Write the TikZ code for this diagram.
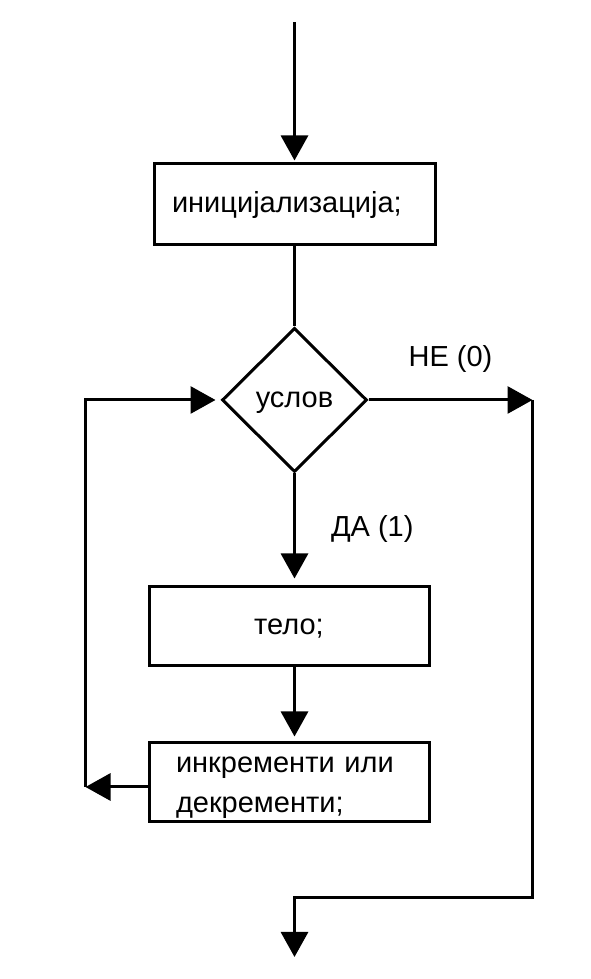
\documentclass[tikz,border=0pt]{standalone}
\usepackage{fontspec}
\setmainfont{Liberation Sans}
\usetikzlibrary{shapes.geometric,
                arrows.meta,
                positioning}
\tikzset{block/.style=
   {rectangle,
    draw,
    line width=3pt,
    text centered,
    text height=22pt,
    text depth=6pt,
    minimum width=280pt,
    minimum height=79pt}}
\tikzset{decision/.style=
   {diamond,
    draw,
    line width=3pt,
    inner sep=0pt,
    text height=22pt,
    text depth=6pt,
    minimum width=145pt,
    minimum height=144pt}}
\tikzset{arrow/.style = {draw, line width=3pt, -{Triangle[length=25pt,width=27pt]}}}
\tikzset{line/.style = {draw, line width=3pt}}
\tikzset{label/.style = {inner sep=0pt}}

\begin{document}
\begin{tikzpicture}[auto, font=\fontsize{29pt}{40pt}\selectfont, line join=miter]

    \useasboundingbox (0,0) rectangle (591pt,979pt);

    % Blocks
    \node [block, minimum width=281pt, minimum height=81pt, text width=245pt, align=left]
        (init) at (294.5pt,774.5pt) {иницијализација;};
    \node [decision, below of=init, node distance=195.5pt] (cond) {услов};
    \node [block, below of=cond, node distance=226.5pt, xshift=-5.5pt] (telo) {тело;};
    \node [block, below of=telo, node distance=156pt, text width=226pt, align=left,
        text height=22pt, text depth=42pt]
        (incr) {инкременти или\\декременти;};

    % Free ends
    \coordinate (start) at ([yshift = 140pt] init.north);
    \coordinate (ne) at ([xshift = 164pt] cond.east);
    \coordinate (back) at ([xshift = -62pt, yshift = -4.5pt] incr.west);
    \coordinate (exit) at (294.5pt,22pt);

    % Draw edges
    \path [arrow, shorten >=2pt] (start) -- (init.north);
    \path [line] (init.south) -- (cond.north);

    % Stage NE
    \path [arrow]
    (cond.east)
    -- node [label, midway, above=26pt] {НЕ (0)}
    (ne);

    \path [arrow]
    (ne) -- ++(0,-498pt) -| (exit);

    % Stage DA
    \path [arrow, shorten >=7pt]
    (cond.south)
    -- node [label, midway, right=35pt] {ДА (1)}
    (cond.south |- telo.north);

    \path [arrow, shorten >=5pt]
    (telo.south -| cond) -- (incr.north -| cond);

    % Loop back
    \path [arrow]
    ([yshift = -4.5pt] incr.west) -- (back);

    \path [arrow, shorten >=5pt]
    (back) |- (cond.west);

\end{tikzpicture}
\end{document}
